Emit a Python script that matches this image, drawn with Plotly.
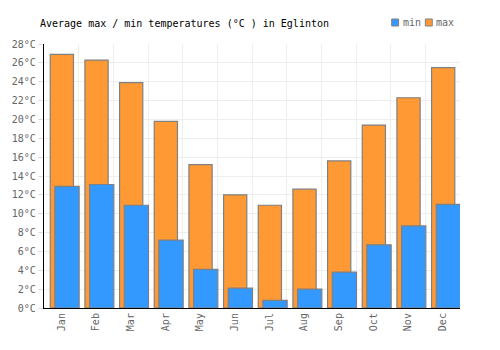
import plotly.graph_objects as go

months = ["Jan", "Feb", "Mar", "Apr", "May", "Jun", "Jul", "Aug", "Sep", "Oct", "Nov", "Dec"]
max_temps = [26.9, 26.3, 23.9, 19.8, 15.2, 12.0, 10.9, 12.6, 15.6, 19.4, 22.3, 25.5]
min_temps = [12.9, 13.1, 10.9, 7.2, 4.1, 2.1, 0.8, 2.0, 3.8, 6.7, 8.7, 11.0]
y_ticks = list(range(0, 29, 2))
y_labels = [f"{v}°C" for v in y_ticks]
series_names = ["min", "max"]
series_colors = ["#3399ff", "#ff9933"]

FONT = "DejaVu Sans Mono"
OUTLINE = "#808080"

fig = go.Figure()
fig.add_trace(go.Bar(
    x=months, y=max_temps, name="max", showlegend=False,
    marker=dict(color=series_colors[1], line=dict(color=OUTLINE, width=1.2)),
    width=0.67, offset=-0.32,
))
fig.add_trace(go.Bar(
    x=months, y=min_temps, name="min", showlegend=False,
    marker=dict(color=series_colors[0], line=dict(color=OUTLINE, width=1.2)),
    width=0.70, offset=-0.186,
))

# legend drawn as small squares + text (pixel positions converted to paper coords)
W, H = 500, 350
L, R, T, B = 40, 40, 44, 42
pw, ph = W - L - R, H - T - B
def px(x):
    return (x - L) / pw
def py(y):
    return 1 - (y - T) / ph

legend_x = [391, 425]
shapes = []
annotations = []
for name, color, x0 in zip(series_names, series_colors, legend_x):
    shapes.append(dict(type="rect", xref="paper", yref="paper",
                       x0=px(x0), x1=px(x0 + 7), y0=py(26), y1=py(19),
                       fillcolor=color, line=dict(color=OUTLINE, width=1)))
    annotations.append(dict(text=name, xref="paper", yref="paper",
                            x=px(x0 + 9), y=py(23), xanchor="left", yanchor="middle",
                            showarrow=False,
                            font=dict(family=FONT, size=10, color="#666666")))

fig.update_layout(
    width=W, height=H,
    margin=dict(l=L, r=R, t=T, b=B),
    barmode="overlay",
    paper_bgcolor="white", plot_bgcolor="white",
    font=dict(family=FONT, size=10, color="#666666"),
    showlegend=False,
    title=dict(text="Average max / min temperatures (°C ) in Eglinton",
               x=40/500, xanchor="left", xref="container",
               y=1 - 23/350, yanchor="middle", yref="container",
               font=dict(family=FONT, size=10, color="#000000")),
    shapes=shapes,
    annotations=annotations,
    xaxis=dict(type="category", tickson="boundaries", tickangle=-90,
               showgrid=True, gridcolor="#eeeeee", gridwidth=1,
               showline=True, linecolor="#000000", linewidth=1.2,
               ticks="", range=[-0.5, 11.5]),
    yaxis=dict(range=[0, 28], tickvals=y_ticks, ticktext=y_labels,
               showgrid=True, gridcolor="#eeeeee", gridwidth=1,
               showline=True, linecolor="#000000", linewidth=1.2,
               ticks="outside", ticklen=5, tickcolor="#dddddd",
               zeroline=False),
)

fig.write_html("out.html")
